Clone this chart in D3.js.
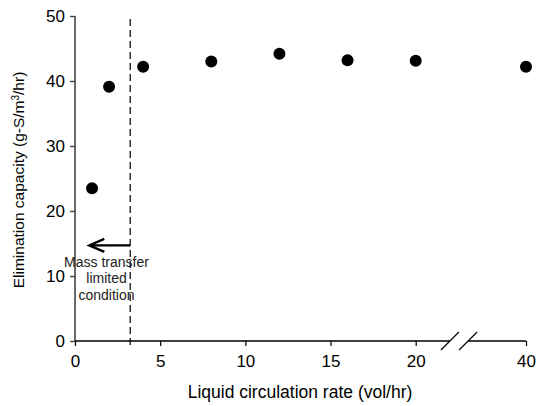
<!DOCTYPE html>
<html>
<head>
<meta charset="utf-8">
<script src="https://cdn.jsdelivr.net/npm/d3@7"></script>
<style>
  body { margin: 0; background: #fff; }
  text { font-family: "Liberation Sans", Arial, sans-serif; }
</style>
</head>
<body>
<div id="chart"></div>
<script>
// data
var rates = [1, 2, 4, 8, 12, 16, 20, 40];
var capacity = [23.5, 39.1, 42.2, 43.0, 44.2, 43.2, 43.1, 42.2];
var xTicks = [0, 5, 10, 15, 20, 40];
var yTicks = [0, 10, 20, 30, 40, 50];
var limitRate = 3.24;      // dashed line
var breakVals = [26.2, 29.5]; // axis break between 20 and 40
var noteLines = ["Mass transfer", "limited", "condition"];

var width = 536, height = 406;
var svg = d3.select("#chart").append("svg")
    .attr("width", width).attr("height", height);

// broken x axis: 0-20 linear, then compressed up to 40
var x = d3.scaleLinear().domain([0, 20, 40]).range([75, 415.7, 526]);
var y = d3.scaleLinear().domain([0, 50]).range([341, 16]);

//y axis
var yAxis = svg.append("g")
    .attr("transform", "translate(" + x(0) + ",0)")
    .call(d3.axisLeft(y).tickValues(yTicks).tickSize(5).tickPadding(5));
yAxis.select(".domain").attr("d", "M0," + y(50) + "V" + y(0)).attr("stroke", "#444").attr("stroke-width", 1.6);
yAxis.selectAll(".tick line").attr("stroke", "#444").attr("stroke-width", 1.4);
yAxis.selectAll("text").style("font-size", "17px").attr("fill", "#000");

//x axis (drawn in two pieces round the break)
var xAxis = svg.append("g")
    .attr("transform", "translate(0," + y(0) + ")")
    .call(d3.axisBottom(x).tickValues(xTicks).tickSize(5).tickPadding(9));
xAxis.select(".domain").remove();
xAxis.selectAll(".tick line").attr("stroke", "#000").attr("stroke-width", 1.2);
xAxis.selectAll("text").style("font-size", "17px").attr("fill", "#000");
xAxis.append("path")
    .attr("d", "M" + x(0) + ",0H" + x(breakVals[0]) + "M" + x(breakVals[1]) + ",0H" + x(40))
    .attr("stroke", "#000").attr("stroke-width", 1.3).attr("fill", "none");
breakVals.forEach(function (b) {
    xAxis.append("line")
        .attr("x1", x(b) - 9).attr("y1", 9)
        .attr("x2", x(b) + 9).attr("y2", -9)
        .attr("stroke", "#000").attr("stroke-width", 1.2);
});

//dashed limit line
svg.append("line")
    .attr("x1", x(limitRate)).attr("x2", x(limitRate))
    .attr("y1", 19).attr("y2", y(0) + 6)
    .attr("stroke", "#000").attr("stroke-width", 1.2)
    .attr("stroke-dasharray", "7,4");

//arrow
var ay = y(14.7);
var tip = x(0.84);
svg.append("line")
    .attr("x1", x(limitRate)).attr("x2", tip + 1)
    .attr("y1", ay).attr("y2", ay)
    .attr("stroke", "#000").attr("stroke-width", 2.2);
svg.append("path")
    .attr("d", "M" + (tip + 15) + "," + (ay - 6.5) + "L" + tip + "," + ay + "L" + (tip + 15) + "," + (ay + 6.5))
    .attr("stroke", "#000").attr("stroke-width", 2.4).attr("fill", "none");

//note text
svg.selectAll(".note")
    .data(noteLines)
    .enter()
    .append("text")
    .attr("x", 106.5)
    .attr("y", function (d, i) { return 266.5 + i * 16.8; })
    .attr("text-anchor", "middle")
    .attr("fill", "#222")
    .style("font-size", "14px")
    .text(function (d) { return d; });

//points
svg.selectAll(".dot")
    .data(rates)
    .enter()
    .append("circle")
    .attr("cx", function (d) { return x(d); })
    .attr("cy", function (d, i) { return y(capacity[i]); })
    .attr("r", 6)
    .attr("fill", "#000");

//axis titles
svg.append("text")
    .attr("x", 300).attr("y", 398)
    .attr("text-anchor", "middle")
    .style("font-size", "17.5px")
    .text("Liquid circulation rate (vol/hr)");

var yt = svg.append("text")
    .attr("transform", "translate(24,180) rotate(-90)")
    .attr("text-anchor", "middle")
    .style("font-size", "15.5px");
yt.append("tspan").text("Elimination capacity (g-S/m");
yt.append("tspan").attr("baseline-shift", "super").style("font-size", "10px").text("3");
yt.append("tspan").text("/hr)");
</script>
</body>
</html>
